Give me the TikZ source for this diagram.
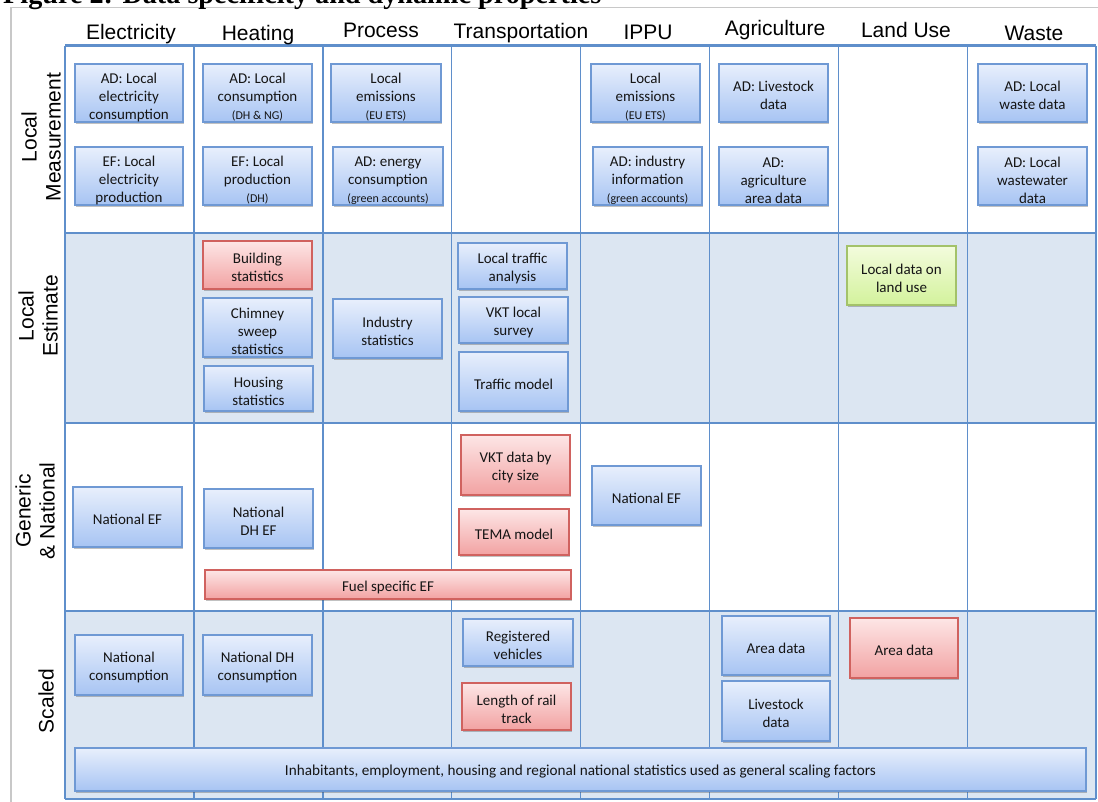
\documentclass[tikz,border=0pt]{standalone}
\usepackage{fontspec}
\usepackage{graphicx}
\setmainfont{Carlito}
\newfontfamily\hdrfont{Liberation Sans}
\newfontfamily\ttlfont{Liberation Serif}
\usetikzlibrary{shadows}
\definecolor{bluetop}{HTML}{E8EFFC}
\definecolor{bluebot}{HTML}{A7C4F3}
\definecolor{bluedraw}{HTML}{6F99D4}
\definecolor{redtop}{HTML}{FDE6E6}
\definecolor{redbot}{HTML}{F2A2A2}
\definecolor{reddraw}{HTML}{D0625F}
\definecolor{greentop}{HTML}{F3FCDD}
\definecolor{greenbot}{HTML}{D3F29C}
\definecolor{greendraw}{HTML}{A3C26A}
\definecolor{gridcol}{HTML}{5F8FCB}
\definecolor{shadecol}{HTML}{DCE6F2}
\definecolor{framecol}{HTML}{C8C8C8}
\definecolor{txt}{HTML}{151515}
\newcommand\sm[1]{{\fontsize{12}{14}\selectfont #1}}
\newcommand\lowr{\rule{0pt}{19pt}}
\newcommand\bx[7]{\node[#1, minimum width={#5-#3}, minimum height={#6-#4}] (#2) at ({(#3+#5)/2},{(#4+#6)/2}) {\rule{0pt}{15.5pt}#7};}
\tikzset{
  basebox/.style={inner sep=0pt, align=center, text=txt,
    font=\fontsize{15}{18}\selectfont, line width=1.1pt,
    drop shadow={shadow xshift=1.4pt, shadow yshift=-1.8pt, opacity=0.35, fill=black!70}},
  bluebox/.style={basebox, draw=bluedraw, top color=bluetop, bottom color=bluebot},
  redbox/.style={basebox, draw=reddraw, top color=redtop, bottom color=redbot},
  greenbox/.style={basebox, draw=greendraw, top color=greentop, bottom color=greenbot},
  hdr/.style={anchor=base, inner sep=0pt, font=\hdrfont\fontsize{21}{24}\selectfont, text=black},
  rowlab/.style={rotate=90, align=center, inner sep=0pt, font=\hdrfont\fontsize{21}{24}\selectfont, text=black},
  gridline/.style={draw=gridcol, line width=1.5pt},
  rowline/.style={draw=gridcol, line width=2.4pt}
}
\begin{document}
\begin{tikzpicture}[x=1pt,y=-1pt]
\useasboundingbox (0,0) rectangle (1098,802);
\clip (0,0) rectangle (1098,802);
% outer frame
\draw[framecol, line width=1.2pt] (11,830) -- (11,7.5) -- (1130,7.5);
% title (cut off at top)
\node[anchor=base west, inner sep=0pt] (title) at (3,3.6)
  {\resizebox{598pt}{!}{\ttlfont\bfseries Figure 2: Data specificity and dynamic properties}};
% shaded rows
\fill[shadecol] (65,233) rectangle (1096,423);
\fill[shadecol] (65,611) rectangle (1096,799);
% grid
\foreach \x in {65,193.9,322.8,451.7,580.6,709.5,838.4,967.3,1096.2}
  \draw[gridline] (\x,45.7) -- (\x,799);
\foreach \y in {45.7,233,423,611,799}
  \draw[rowline] (65,\y) -- (1096.2,\y);
% headers
\node[hdr] (hE) at (131,40) {Electricity};
\node[hdr] (hH) at (258,40.7) {Heating};
\node[hdr] (hP) at (381,37.3) {Process};
\node[hdr] (hT) at (521,38.3) {Transportation};
\node[hdr] (hI) at (648,39.3) {IPPU};
\node[hdr] (hA) at (775,36) {Agriculture};
\node[hdr] (hL) at (906,37.3) {Land Use};
\node[hdr] (hW) at (1034,40.7) {Waste};
% row labels
\node[rowlab] (rLM) at (41,137) {Local\\Measurement};
\node[rowlab] (rLE) at (38,316) {Local\\Estimate};
\node[rowlab] (rGN) at (35,511) {Generic\\\& National};
\node[rowlab] (rS) at (46,701) {Scaled};
% Local Measurement row
\bx{bluebox}{e1}{75}{64}{183}{122}{\lowr AD: Local\\electricity\\consumption}
\bx{bluebox}{e2}{75}{147}{183}{205}{\lowr EF: Local\\electricity\\production}
\bx{bluebox}{h1}{203}{64}{312}{122}{\lowr AD: Local\\consumption\\\sm{(DH \& NG)}}
\bx{bluebox}{h2}{203}{147}{312}{205}{\lowr EF: Local\\production\\\sm{(DH)}}
\bx{bluebox}{p1}{331}{64}{441}{122}{\lowr Local\\emissions\\\sm{(EU ETS)}}
\bx{bluebox}{p2}{333}{147}{443}{205}{\lowr AD: energy\\consumption\\\sm{(green accounts)}}
\bx{bluebox}{i1}{591}{64}{700}{122}{\lowr Local\\emissions\\\sm{(EU ETS)}}
\bx{bluebox}{i2}{593}{147}{702}{205}{\lowr AD: industry\\information\\\sm{(green accounts)}}
\bx{bluebox}{a1}{719}{64}{828}{122}{AD: Livestock\\data}
\bx{bluebox}{a2}{719}{147}{828}{205}{\lowr AD:\\agriculture\\area data}
\bx{bluebox}{w1}{978}{64}{1087}{122}{AD: Local\\waste data}
\bx{bluebox}{w2}{978}{147}{1087}{205}{\lowr AD: Local\\wastewater\\data}
% Local Estimate row
\bx{redbox}{hb}{203}{241}{312}{289}{Building\\statistics}
\bx{bluebox}{hc}{203}{298}{312}{357}{\lowr Chimney\\sweep\\statistics}
\bx{bluebox}{hh}{204}{366}{313}{411}{Housing\\statistics}
\bx{bluebox}{pi}{333}{299}{442}{358}{Industry\\statistics}
\bx{bluebox}{tl}{458}{243}{567}{289}{Local traffic\\analysis}
\bx{bluebox}{tv}{459}{297}{568}{343}{VKT local\\survey}
\bx{bluebox}{tm}{459}{352}{568}{411}{Traffic model}
\bx{greenbox}{lu}{847}{246}{956}{305}{Local data on\\land use}
% Generic & National row
\bx{bluebox}{en}{73}{487}{182}{547}{National EF}
\bx{bluebox}{hn}{204}{489}{313}{548}{National\\DH EF}
\bx{redbox}{tk}{461}{435}{570}{495}{VKT data by\\city size}
\bx{redbox}{tt}{459}{509}{569}{555}{TEMA model}
\bx{bluebox}{in}{592}{466}{701}{525}{National EF}
\bx{redbox}{fs}{205}{570}{571}{599}{Fuel specific EF}
% Scaled row
\bx{bluebox}{ec}{75}{635}{183}{695}{National\\consumption}
\bx{bluebox}{hd}{203}{635}{312}{695}{National DH\\consumption}
\bx{bluebox}{tr}{463}{619}{573}{666}{Registered\\vehicles}
\bx{redbox}{tf}{462}{683}{571}{730}{Length of rail\\track}
\bx{bluebox}{aa}{722}{616}{830}{675}{Area data}
\bx{bluebox}{al}{722}{681}{830}{741}{Livestock\\data}
\bx{redbox}{la}{850}{618}{958}{678}{Area data}
\bx{bluebox}{gs}{75}{748}{1086}{791}{\fontsize{15.2}{18}\selectfont Inhabitants, employment, housing and regional national statistics used as general scaling factors}
\end{tikzpicture}
\end{document}
